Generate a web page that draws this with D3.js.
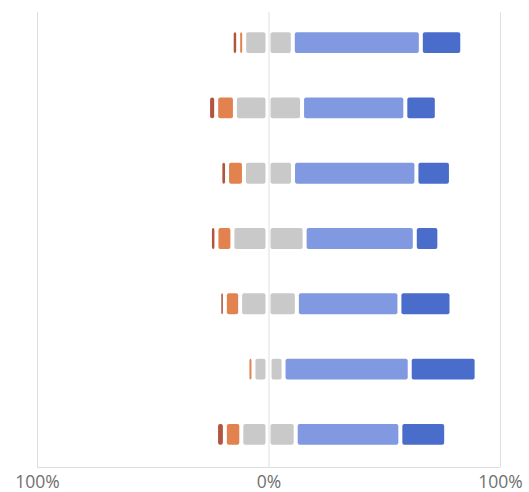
<!DOCTYPE html>
<html>
<head>
<meta charset="utf-8">
<script src="https://cdn.jsdelivr.net/npm/d3@7"></script>
<style>
  body { margin: 0; background: #fff; }
  .grid line { stroke: #dedede; stroke-width: 1; }
  .labels text { fill: #707070; font-family: "Open Sans", "Noto Sans", sans-serif; font-size: 17.5px; }
</style>
</head>
<body>
<script>
// Rows (top to bottom) and the share of answers in each group, in %
const rows = ["Q1", "Q2", "Q3", "Q4", "Q5", "Q6", "Q7"];
const stronglyDisagree = [2.8, 3.5, 2.9, 2.8, 2.4, 0.6, 3.8];
const disagree        = [2.6, 8.1, 7.3, 6.9, 6.6, 2.6, 7.1];
const neutral         = [21.0, 29.0, 21.2, 31.2, 24.5, 13.0, 23.5];
const agree           = [55.3, 44.6, 53.3, 47.6, 44.3, 54.5, 45.2];
const stronglyAgree   = [17.9, 13.6, 14.9, 10.6, 22.5, 28.9, 19.8];
const tickValues = [-100, 0, 100];

const width = 529, height = 492;
const margin = { top: 10, right: 29, bottom: 25, left: 37 };

const svg = d3.select("body").append("svg")
    .attr("width", width)
    .attr("height", height);

const x = d3.scaleLinear()
    .domain([-100, 100])
    .range([margin.left, width - margin.right]);

const y = d3.scaleBand()
    .domain(rows)
    .range([margin.top, height - margin.bottom])
    .paddingInner(0.68)
    .paddingOuter(0.34);

const colors = ["#b2553e", "#e2834f", "#c9c9c9", "#c9c9c9", "#8099e0", "#4a6dcc"];

// build the segments, neutral split in two halves around zero
const segments = [];
rows.forEach((r, i) => {
    const parts = [stronglyDisagree[i], disagree[i], neutral[i] / 2, neutral[i] / 2, agree[i], stronglyAgree[i]];
    let start = -(stronglyDisagree[i] + disagree[i] + neutral[i] / 2);
    parts.forEach((v, k) => {
        segments.push({ row: r, x0: start, x1: start + v, color: colors[k] });
        start += v;
    });
});

// grid lines
const gridBottom = height - margin.bottom;
svg.append("g")
    .attr("class", "grid")
    .attr("transform", `translate(0,${gridBottom})`)
    .call(d3.axisBottom(x).tickValues(tickValues).tickSize(-(gridBottom - 12)).tickFormat(""))
    .call(g => g.select(".domain").remove());

svg.append("line")
    .attr("x1", x(-100)).attr("x2", x(100))
    .attr("y1", gridBottom + 0.5).attr("y2", gridBottom + 0.5)
    .attr("stroke", "#dedede");

// bars (a bit more room on the side touching zero)
const gap = 2;
const padL = d => d.x0 === 0 ? 3 : gap;
const padR = d => Math.abs(d.x1) < 1e-9 ? 3 : gap;
svg.append("g")
    .selectAll("rect")
    .data(segments.filter(d => x(d.x1) - x(d.x0) - 2 * gap > 0.5))
    .enter().append("rect")
    .attr("x", d => x(d.x0) + padL(d))
    .attr("width", d => x(d.x1) - x(d.x0) - padL(d) - padR(d))
    .attr("y", d => y(d.row))
    .attr("height", y.bandwidth())
    .attr("rx", 2)
    .attr("fill", d => d.color);

// axis labels
svg.append("g")
    .attr("class", "labels")
    .attr("transform", `translate(0,${gridBottom})`)
    .call(d3.axisBottom(x).tickValues(tickValues).tickSize(0).tickPadding(9)
        .tickFormat(d => Math.abs(d) + "%"))
    .call(g => g.select(".domain").remove())
    .call(g => g.selectAll("text").attr("font-size", null).attr("font-family", null).attr("fill", null));
</script>
</body>
</html>
